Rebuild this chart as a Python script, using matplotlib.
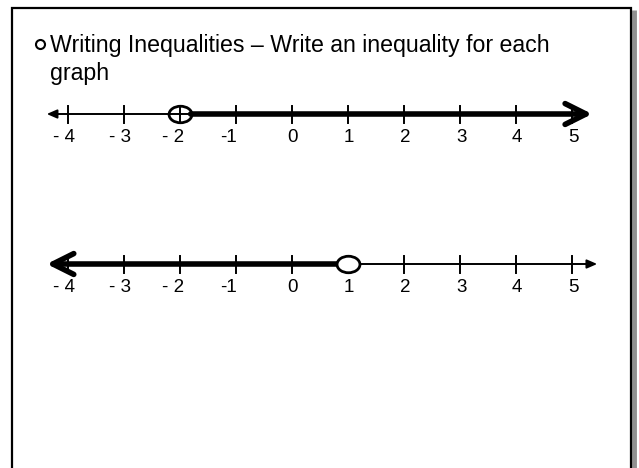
import matplotlib
matplotlib.use('Agg')
import matplotlib.pyplot as plt
from matplotlib.path import Path
from matplotlib.transforms import Affine2D

plt.rcParams['font.family'] = ['Liberation Sans', 'DejaVu Sans']

# number line data
tick_values = [-4, -3, -2, -1, 0, 1, 2, 3, 4, 5]
tick_labels = ['- 4', '- 3', '- 2', '-1', '0', '1', '2', '3', '4', '5']
label_shift = [-0.07, -0.07, -0.12, -0.14, 0, 0.02, 0.02, 0.02, 0.02, 0.03]

title_lines = ['Writing Inequalities \u2013 Write an inequality for each', 'graph']

# graph 1: open circle at -2, shaded to the right
g1_point = -2
g1_left_end = -4.38
g1_right_end = 5.36
# graph 2: open circle at 1, shaded to the left
g2_point = 1
g2_left_end = -4.38
g2_right_end = 5.45

W, H = 639, 468
fig = plt.figure(figsize=(W / 100, H / 100), dpi=100)

# background axes in pixel units: frame + title
bg = fig.add_axes([0, 0, 1, 1])
bg.set_xlim(0, W)
bg.set_ylim(H, 0)
bg.axis('off')
bg.plot([634, 634], [10, H + 5], color='#909090', lw=3.5, solid_capstyle='butt')
bg.plot([12, 12, 631, 631], [H + 5, 8, 8, H + 5], color='black', lw=1.6,
        solid_joinstyle='miter')
bg.plot([40], [44], marker='o', ms=6.5, mfc='none', mec='black', mew=1.5)
bg.text(50, 52, title_lines[0], fontsize=16.7, va='baseline')
bg.text(50, 80, title_lines[1], fontsize=16.7, va='baseline')

# number line axes: x in number units (56 px per unit, 0 at x=292px)
ax = fig.add_axes([0, 0, 1, 1])
ax.set_xlim(-292 / 56, (W - 292) / 56)
ax.set_ylim(H, 0)
ax.axis('off')
ax.patch.set_alpha(0)

oval = Path.unit_circle().transformed(Affine2D().scale(1, 0.72))

thin = 1.4
thick = 4.0
tick_half = 8.5


def arrow(ax, start, end, y, kind):
    if kind == 'thick':
        props = dict(arrowstyle='->,head_length=15,head_width=7.5', lw=thick,
                     mutation_scale=1, shrinkA=0, shrinkB=0, color='black')
    else:
        props = dict(arrowstyle='-|>,head_length=6,head_width=2.6', lw=thin,
                     mutation_scale=1, shrinkA=0, shrinkB=0, color='black')
    ax.annotate('', xy=(end, y), xytext=(start, y), arrowprops=props)


def number_line(ax, y, point, left_end, right_end, shade):
    r = 0.19
    if shade == 'right':
        arrow(ax, point, left_end, y, 'thin')
        ax.plot([point, point + r], [y, y], color='black', lw=thin)
        arrow(ax, point + r, right_end, y, 'thick')
        face = 'none'
    else:
        arrow(ax, point, right_end, y, 'thin')
        arrow(ax, point, left_end, y, 'thick')
        face = 'white'
    for v in tick_values:
        ax.plot([v, v], [y - tick_half, y + tick_half], color='black', lw=thin)
    for v, lab, dx in zip(tick_values, tick_labels, label_shift):
        ax.text(v + dx, y + 23, lab, fontsize=13.5, ha='center', va='center')
    ax.plot([point], [y], marker=oval, ms=16.5, mfc=face, mec='black',
            mew=2.0, zorder=5)


number_line(ax, 114, g1_point, g1_left_end, g1_right_end, 'right')
number_line(ax, 264, g2_point, g2_left_end, g2_right_end, 'left')

fig.savefig('out.png', dpi=100)
